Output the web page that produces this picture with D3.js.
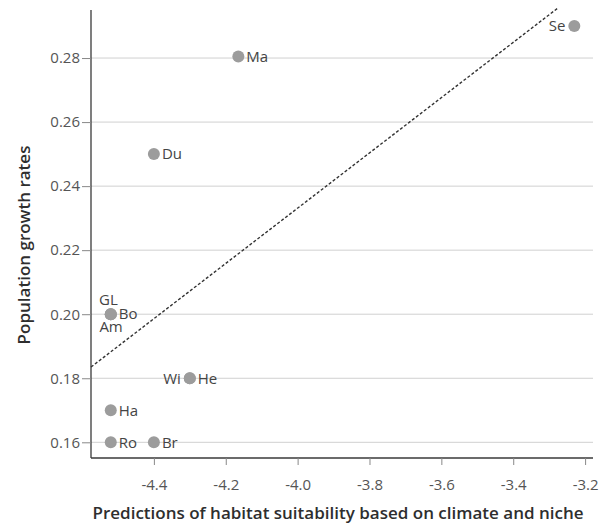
<!DOCTYPE html>
<html>
<head>
<meta charset="utf-8">
<script src="https://cdn.jsdelivr.net/npm/d3@7"></script>
<style>
  html, body { margin: 0; padding: 0; background: #fff; }
  svg { display: block; }
  text { font-family: "Open Sans", "Noto Sans", sans-serif; }
</style>
</head>
<body>
<svg id="chart" width="605" height="524"></svg>
<script>
// Populations: habitat suitability prediction vs. observed growth rate
const sites      = ["Ma", "Du", "Se", "GL", "Bo", "Am", "Wi", "He", "Ha", "Ro", "Br"];
const suitability = [-4.165, -4.40, -3.23, -4.52, -4.52, -4.52, -4.30, -4.30, -4.52, -4.52, -4.40];
const growthRate  = [0.2805, 0.250, 0.290, 0.200, 0.200, 0.200, 0.180, 0.180, 0.170, 0.160, 0.160];
// label placement relative to the point: r = right, l = left, tl = above-left, bl = below-left
const labelSide   = ["r", "r", "l", "tl", "r", "bl", "l", "r", "r", "r", "r"];

// fitted regression line endpoints
const fitX = [-4.575, -3.277];
const fitY = [0.1835, 0.2955];

const xTicks = [-4.4, -4.2, -4.0, -3.8, -3.6, -3.4, -3.2];
const yTicks = [0.16, 0.18, 0.20, 0.22, 0.24, 0.26, 0.28];

const svg = d3.select("#chart");
const plotL = 91, plotR = 593, plotT = 10, plotB = 458;

const x = d3.scaleLinear().domain([-4.575, -3.178]).range([plotL, plotR]);
const y = d3.scaleLinear().domain([0.1551, 0.295]).range([plotB, plotT]);

// horizontal gridlines
svg.append("g")
  .selectAll("line")
  .data(yTicks)
  .join("line")
  .attr("x1", plotL).attr("x2", plotR)
  .attr("y1", d => y(d)).attr("y2", d => y(d))
  .attr("stroke", "#d0d0d0").attr("stroke-width", 1);

// y axis
const yAxis = svg.append("g")
  .attr("transform", `translate(${plotL},0)`)
  .call(d3.axisLeft(y).tickValues(yTicks).tickFormat(d3.format(".2f")).tickSize(9).tickSizeOuter(0));
yAxis.select(".domain").attr("d", `M0,${plotT}V${plotB}`).attr("stroke", "#3a3a3a").attr("stroke-width", 1.3);
yAxis.selectAll(".tick line").attr("stroke", "#888");
yAxis.selectAll(".tick text").attr("x", -11).attr("fill", "#555").attr("font-size", 15)
  .style("font-family", "'Open Sans', sans-serif");

// x axis
const xAxis = svg.append("g")
  .attr("transform", `translate(0,${plotB})`)
  .call(d3.axisBottom(x).tickValues(xTicks).tickFormat(d => d.toFixed(1)).tickSize(7).tickSizeOuter(0));
xAxis.select(".domain").attr("d", `M${plotL},0H${plotR}`).attr("stroke", "#3a3a3a").attr("stroke-width", 1.3);
xAxis.selectAll(".tick line").attr("stroke", "#888");
xAxis.selectAll(".tick text").attr("y", 21).attr("fill", "#555").attr("font-size", 15)
  .style("font-family", "'Open Sans', sans-serif");

// dashed regression line
svg.append("line")
  .attr("x1", x(fitX[0])).attr("y1", y(fitY[0]))
  .attr("x2", x(fitX[1])).attr("y2", y(fitY[1]))
  .attr("stroke", "#333").attr("stroke-width", 1.4)
  .attr("stroke-dasharray", "3,2");

// points
const pts = sites.map((s, i) => ({ s, x: suitability[i], y: growthRate[i], side: labelSide[i] }));
svg.append("g")
  .selectAll("circle")
  .data(pts)
  .join("circle")
  .attr("cx", d => x(d.x)).attr("cy", d => y(d.y))
  .attr("r", 6)
  .attr("fill", "#9c9c9c");

// site labels
const offsets = {
  r:  { dx: 8,  dy: 0,   anchor: "start" },
  l:  { dx: -9, dy: 0,   anchor: "end" },
  tl: { dx: 7,  dy: -14, anchor: "end" },
  bl: { dx: 12, dy: 13,  anchor: "end" }
};
svg.append("g")
  .selectAll("text")
  .data(pts)
  .join("text")
  .attr("x", d => x(d.x) + offsets[d.side].dx)
  .attr("y", d => y(d.y) + offsets[d.side].dy)
  .attr("dy", "0.35em")
  .attr("text-anchor", d => offsets[d.side].anchor)
  .attr("fill", "#444")
  .attr("font-size", 15)
  .text(d => d.s);

// axis titles
svg.append("text")
  .attr("x", 338).attr("y", 519)
  .attr("text-anchor", "middle")
  .attr("font-size", 17).attr("font-weight", 600)
  .attr("fill", "#2e2e2e")
  .text("Predictions of habitat suitability based on climate and niche");

svg.append("text")
  .attr("transform", "translate(30,245) rotate(-90)")
  .attr("text-anchor", "middle")
  .attr("font-size", 17).attr("font-weight", 600)
  .attr("fill", "#2e2e2e")
  .text("Population growth rates");
</script>
</body>
</html>
